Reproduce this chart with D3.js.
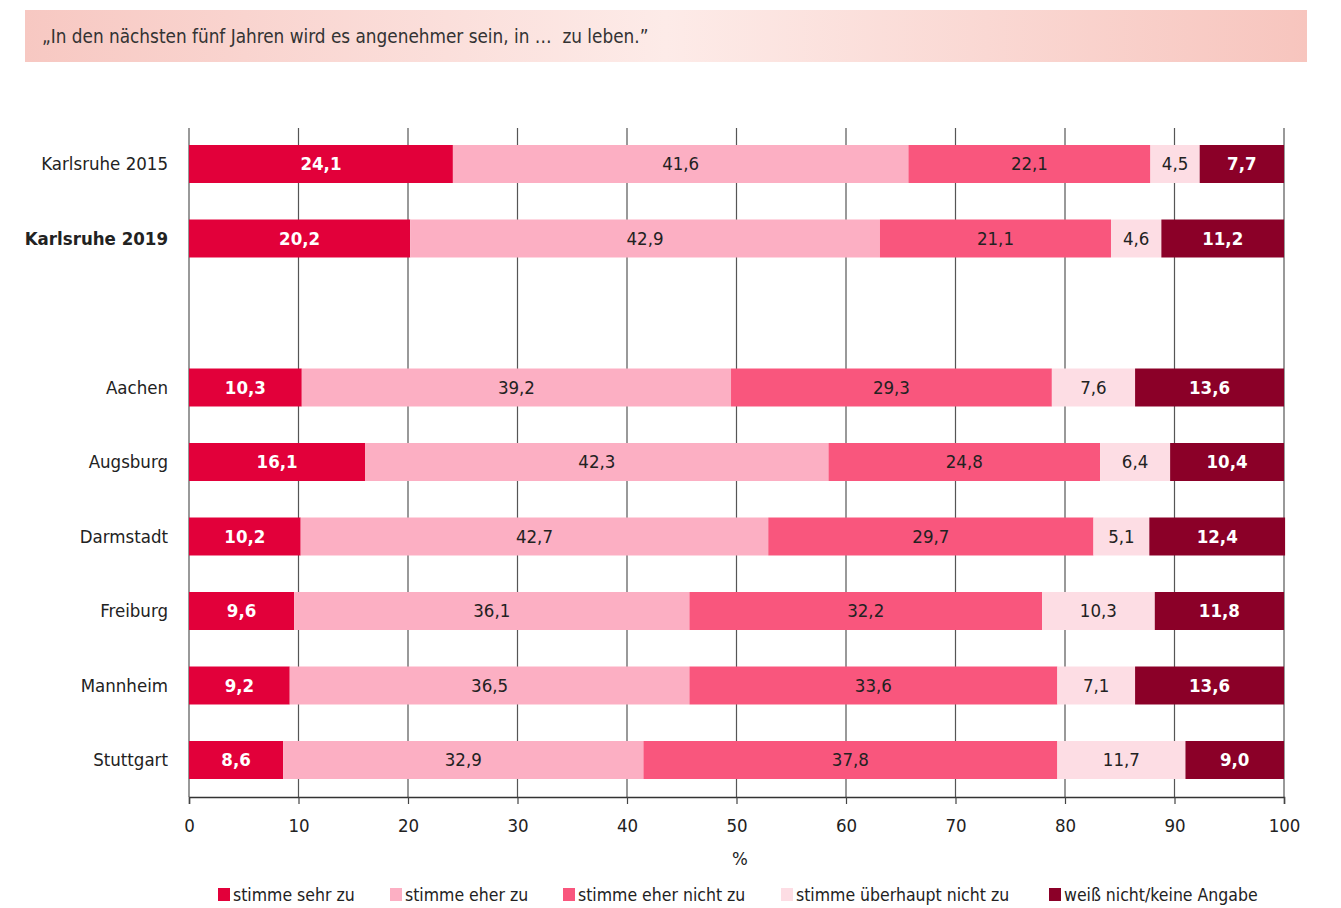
<!DOCTYPE html>
<html><head><meta charset="utf-8">
<script src="https://cdn.jsdelivr.net/npm/d3@7"></script>
<style>
body{margin:0;background:#fff;}
svg text{font-family:"Liberation Sans Narrow","DejaVu Sans Condensed","Open Sans",sans-serif;}
</style></head>
<body><svg id="c" width="1341" height="908"></svg>
<script>
const categories = ["Karlsruhe 2015","Karlsruhe 2019","","Aachen","Augsburg","Darmstadt","Freiburg","Mannheim","Stuttgart"];
const seriesNames = ["stimme sehr zu","stimme eher zu","stimme eher nicht zu","stimme überhaupt nicht zu","weiß nicht/keine Angabe"];
const sehrZu      = [24.1,20.2,null,10.3,16.1,10.2,9.6,9.2,8.6];
const eherZu      = [41.6,42.9,null,39.2,42.3,42.7,36.1,36.5,32.9];
const eherNicht   = [22.1,21.1,null,29.3,24.8,29.7,32.2,33.6,37.8];
const garNicht    = [4.5,4.6,null,7.6,6.4,5.1,10.3,7.1,11.7];
const weissNicht  = [7.7,11.2,null,13.6,10.4,12.4,11.8,13.6,9.0];
const xTicks = [0,10,20,30,40,50,60,70,80,90,100];
const title = "„In den nächsten fünf Jahren wird es angenehmer sein, in …\u00A0 zu leben.\u201D";
const colors = ["#E2003A","#FCAFC3","#F9567D","#FDDDE4","#8B0028"];
const labelColors = ["#fff","#222","#222","#222","#fff"];
const labelWeights = ["bold","normal","normal","normal","bold"];

const series = [sehrZu,eherZu,eherNicht,garNicht,weissNicht];
const svg = d3.select("#c");

// title bar
const defs = svg.append("defs");
const g = defs.append("linearGradient").attr("id","tg").attr("x1","0").attr("x2","1").attr("y1","0").attr("y2","0");
g.append("stop").attr("offset","0").attr("stop-color","#F7C8C2");
g.append("stop").attr("offset","0.5").attr("stop-color","#FDEBE8");
g.append("stop").attr("offset","1").attr("stop-color","#F7C5BE");
svg.append("rect").attr("x",25).attr("y",10).attr("width",1282).attr("height",52).attr("fill","url(#tg)");
svg.append("text").attr("x",42).attr("y",43).attr("font-size",18.8).attr("fill","#333").text(title);

const x = d3.scaleLinear().domain([0,100]).range([189,1284]);
const y = d3.scaleBand().domain(categories.map((c,i)=>i)).range([126.75,797.25]).paddingInner(0.49).paddingOuter(0.245);
const plotTop = 128, axisY = 797;

// gridlines
svg.append("g").selectAll("line").data(xTicks).join("line")
  .attr("x1",d=>x(d)).attr("x2",d=>x(d)).attr("y1",plotTop).attr("y2",axisY)
  .attr("stroke","#555").attr("stroke-width",1.2);

// bars
categories.forEach((cat,i)=>{
  if(!cat) return;
  let acc = 0;
  series.forEach((s,k)=>{
    const v = s[i];
    const x0 = acc; acc += v;
    svg.append("rect").attr("x",x(x0)).attr("y",y(i)).attr("width",x(acc)-x(x0)).attr("height",y.bandwidth()).attr("fill",colors[k]);
    svg.append("text").attr("x",(x(x0)+x(acc))/2).attr("y",y(i)+y.bandwidth()/2).attr("dy","0.35em")
      .attr("text-anchor","middle").attr("font-size",18.5).attr("fill",labelColors[k]).attr("font-weight",labelWeights[k])
      .text(d3.format(".1f")(v).replace(".",","));
  });
});

// category labels
svg.append("g").selectAll("text").data(categories.map((c,i)=>({c,i})).filter(d=>d.c)).join("text")
  .attr("x",168).attr("y",d=>y(d.i)+y.bandwidth()/2).attr("dy","0.35em").attr("text-anchor","end")
  .attr("font-size",18.5).attr("fill","#222").attr("font-weight",d=>d.c==="Karlsruhe 2019"?"bold":"normal")
  .text(d=>d.c);

// x axis
const ax = svg.append("g").attr("transform",`translate(0,${axisY})`)
  .call(d3.axisBottom(x).tickValues(xTicks).tickSize(7).tickPadding(15).tickFormat(d=>d));
ax.select(".domain").attr("stroke","#333").attr("stroke-width",1.5);
ax.selectAll(".tick line").attr("stroke","#444").attr("stroke-width",1.2);
ax.selectAll(".tick text").attr("font-size",18.5).attr("fill","#222").attr("font-family",null);
svg.append("text").attr("x",740).attr("y",865).attr("text-anchor","middle").attr("font-size",18.5).attr("fill","#222").text("%");

// legend
const legX = [218,390,563,781,1049];
const leg = svg.append("g");
seriesNames.forEach((n,k)=>{
  leg.append("rect").attr("x",legX[k]).attr("y",888).attr("width",12).attr("height",13).attr("fill",colors[k]);
  leg.append("text").attr("x",legX[k]+15).attr("y",901).attr("font-size",17.5).attr("fill","#222").text(n);
});
</script></body></html>
